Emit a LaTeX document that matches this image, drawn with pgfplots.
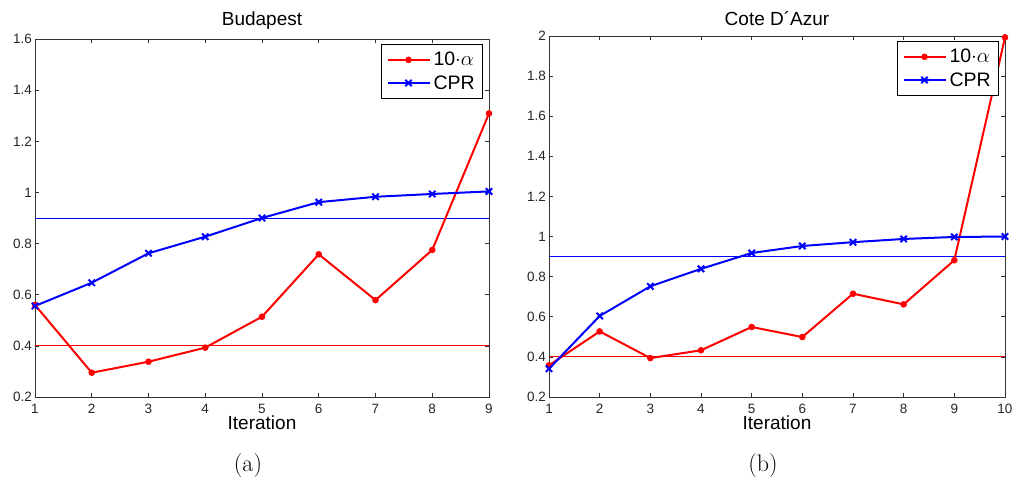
\documentclass[border=0pt]{standalone}
\usepackage{fontspec}
\newfontfamily\helv{Liberation Sans}
\usepackage{pgfplots}
\pgfplotsset{compat=1.18}
\begin{document}
\begin{tikzpicture}
\useasboundingbox (0pt,0pt) rectangle (1015pt,-482pt);
\pgfplotsset{
 mystyle/.style={
  scale only axis, anchor=south west,
  font=\helv,
  tick label style={font=\helv\fontsize{13.5}{15}\selectfont, text=black!85},
  /pgf/number format/assume math mode=true,
  xtick={1,2,...,10},
  tick align=inside, major tick length=4pt,
  tick style={black!80, line width=0.6pt},
  axis line style={black!80, line width=0.8pt},
  xticklabel style={anchor=base, yshift=-16.5pt, inner sep=0pt},
  yticklabel style={inner xsep=3pt},
  xlabel={Iteration},
  xlabel style={font=\helv\fontsize{19}{21}\selectfont, at={(0.5,0)}, anchor=base, yshift=-32.5pt, inner sep=0pt},
  every axis title/.style={font=\helv\fontsize{19}{21}\selectfont, at={(0.5,1)}, anchor=base},
  legend style={font=\helv\fontsize{19.5}{21}\selectfont, at={(1,1)}, anchor=north east,
     xshift=-6pt, yshift=-5pt, draw=black, line width=0.6pt, inner xsep=5pt, inner ysep=4pt,
     nodes={inner xsep=3pt, inner ysep=4pt}},
  legend cell align=left,
  legend image code/.code={\draw[mark repeat=2,mark phase=2] plot coordinates {(0pt,0pt) (21pt,0pt) (42pt,0pt)};},
 },
 redser/.style={red, line width=2pt, mark=*, mark size=3pt, mark options={solid, line width=0.5pt}},
 blueser/.style={blue, line width=2pt, mark=x, mark size=4.5pt, mark options={solid, line width=2pt}},
 refline/.style={draw=#1, color=#1, line width=0.9pt, mark=none, forget plot},
}
\begin{axis}[mystyle, at={(35pt,-397pt)}, width=454pt, height=358pt,
  xmin=1, xmax=9, ymin=0.2, ymax=1.6,
  ytick={0.2,0.4,0.6,0.8,1,1.2,1.4,1.6},
  title={Budapest}, title style={yshift=14pt}]
\addplot[refline=red] coordinates {(1,0.4) (9,0.4)};
\addplot[refline=blue] coordinates {(1,0.9) (9,0.9)};
\addplot[redser] coordinates {(1,0.56) (2,0.295) (3,0.338) (4,0.393) (5,0.514) (6,0.758) (7,0.579) (8,0.775) (9,1.309)};
\addlegendentry{10$\cdot\alpha$}
\addplot[blueser] coordinates {(1,0.556) (2,0.647) (3,0.762) (4,0.827) (5,0.900) (6,0.962) (7,0.983) (8,0.994) (9,1.004)};
\addlegendentry{CPR}
\end{axis}
\begin{axis}[mystyle, at={(549pt,-397pt)}, width=456pt, height=361pt,
  xmin=1, xmax=10, ymin=0.2, ymax=2,
  ytick={0.2,0.4,0.6,0.8,1,1.2,1.4,1.6,1.8,2},
  title={Cote D´Azur}, title style={yshift=11pt}]
\addplot[refline=red] coordinates {(1,0.4) (10,0.4)};
\addplot[refline=blue] coordinates {(1,0.9) (10,0.9)};
\addplot[redser] coordinates {(1,0.358) (2,0.527) (3,0.394) (4,0.433) (5,0.549) (6,0.499) (7,0.715) (8,0.662) (9,0.882) (10,1.993)};
\addlegendentry{10$\cdot\alpha$}
\addplot[blueser] coordinates {(1,0.341) (2,0.604) (3,0.752) (4,0.839) (5,0.918) (6,0.953) (7,0.972) (8,0.988) (9,0.998) (10,1.0)};
\addlegendentry{CPR}
\end{axis}
\node[font=\fontsize{24}{28}\selectfont] at (248pt,-466pt) {(a)};
\node[font=\fontsize{24}{28}\selectfont] at (763pt,-466pt) {(b)};
\end{tikzpicture}
\end{document}
